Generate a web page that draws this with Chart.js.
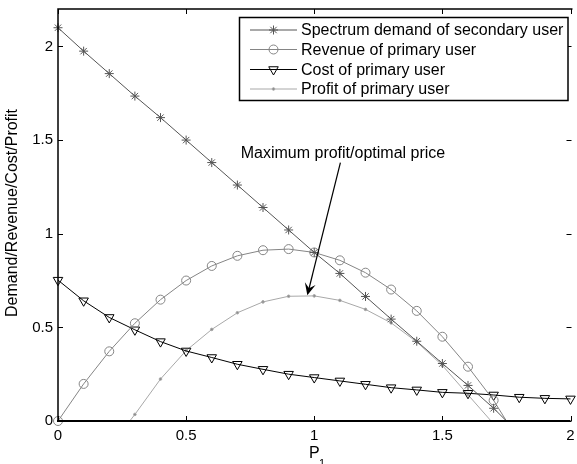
<!DOCTYPE html>
<html>
<head>
<meta charset="utf-8">
<title>Demand / Revenue / Cost / Profit vs P1</title>
<script src="https://cdn.jsdelivr.net/npm/chart.js@4"></script>
<style>
  html, body { margin: 0; padding: 0; background: #fff; }
  canvas { display: block; }
</style>
</head>
<body>
<canvas id="chart" width="577" height="464"></canvas>
<script>
// price of the primary user (P1), sampled every 0.1
const prices = [0, 0.1, 0.2, 0.3, 0.4, 0.5, 0.6, 0.7, 0.8, 0.9, 1.0,
                1.1, 1.2, 1.3, 1.4, 1.5, 1.6, 1.7, 1.8, 1.9, 2.0];

const demand  = [2.10, 1.975, 1.855, 1.735, 1.62, 1.50, 1.38, 1.26, 1.14, 1.02,
                 0.90, 0.788, 0.665, 0.544, 0.426, 0.307, 0.19, 0.068];
const revenue = [0, 0.198, 0.372, 0.522, 0.648, 0.75, 0.828, 0.882, 0.912, 0.918,
                 0.90, 0.858, 0.792, 0.702, 0.588, 0.45, 0.29, 0.11];
const cost    = [0.752, 0.642, 0.553, 0.487, 0.424, 0.374, 0.339, 0.303, 0.276, 0.25,
                 0.232, 0.214, 0.196, 0.178, 0.166, 0.153, 0.148, 0.139, 0.127, 0.121, 0.118];
const profit  = [null, null, null, 0.035, 0.224, 0.376, 0.489, 0.578, 0.636, 0.666,
                 0.668, 0.644, 0.596, 0.524, 0.422, 0.297, 0.14];

// where a curve runs into zero between samples (no marker there)
const demandZeroAt = 1.75;
const revenueZeroAt = 1.75;
const profitStartAt = 0.28;
const profitEndAt = 1.69;

const labels = [
  'Spectrum demand of secondary user',
  'Revenue of primary user',
  'Cost of primary user',
  'Profit of primary user'
];

const FONT = '"Liberation Sans", Arial, Helvetica, sans-serif';

function toPoints(values) {
  const pts = [];
  values.forEach((v, i) => { if (v !== null) pts.push({ x: prices[i], y: v }); });
  return pts;
}

const demandPts = toPoints(demand).concat([{ x: demandZeroAt, y: 0 }]);
const revenuePts = toPoints(revenue).concat([{ x: revenueZeroAt, y: 0 }]);
const costPts = toPoints(cost);
const profitPts = [{ x: profitStartAt, y: 0 }].concat(toPoints(profit), [{ x: profitEndAt, y: 0 }]);

// markers everywhere except the zero crossings
const radii = (pts, r, skipFirst) =>
  pts.map((p, i) => (i === pts.length - 1 || (skipFirst && i === 0)) ? 0 : r);

const styles = [
  { color: '#555555', pointStyle: 'star', radius: 4.5, rotation: 0, fill: 'rgba(0,0,0,0)' },
  { color: '#858585', pointStyle: 'circle', radius: 4.5, rotation: 0, fill: 'rgba(0,0,0,0)' },
  { color: '#000000', pointStyle: 'triangle', radius: 5.5, rotation: 180, fill: 'rgba(0,0,0,0)' },
  { color: '#a8a8a8', pointStyle: 'circle', radius: 1.3, rotation: 0, fill: '#8c8c8c' }
];

function makeDataset(i, pts, pointRadius) {
  const s = styles[i];
  return {
    label: labels[i],
    data: pts,
    borderColor: s.color,
    borderWidth: 1,
    pointStyle: s.pointStyle,
    pointRotation: s.rotation,
    pointRadius: pointRadius,
    pointBorderColor: s.color,
    pointBackgroundColor: s.fill,
    pointBorderWidth: 1,
    tension: 0,
    clip: false
  };
}

// box, inward tick marks, axis titles, legend and the arrow note
const decorations = {
  id: 'decorations',
  afterDraw(chart) {
    const { ctx, chartArea: a, scales: { x, y } } = chart;
    ctx.save();

    // frame: left, top and a heavier bottom line
    ctx.strokeStyle = '#000';
    ctx.lineWidth = 1.5;
    ctx.beginPath();
    ctx.moveTo(a.left, a.bottom);
    ctx.lineTo(a.left, a.top);
    ctx.lineTo(a.right + 2, a.top);
    ctx.stroke();
    ctx.lineWidth = 2.2;
    ctx.beginPath();
    ctx.moveTo(a.left - 1, a.bottom);
    ctx.lineTo(a.right, a.bottom);
    ctx.stroke();

    // tick marks pointing into the plot on all four sides
    ctx.lineWidth = 1;
    const tl = 5;
    x.ticks.forEach(t => {
      const px = Math.round(x.getPixelForValue(t.value)) + 0.5;
      ctx.beginPath();
      ctx.moveTo(px, a.bottom); ctx.lineTo(px, a.bottom - tl);
      ctx.moveTo(px, a.top); ctx.lineTo(px, a.top + tl);
      ctx.stroke();
    });
    y.ticks.forEach(t => {
      const py = Math.round(y.getPixelForValue(t.value)) + 0.5;
      ctx.beginPath();
      ctx.moveTo(a.left, py); ctx.lineTo(a.left + tl, py);
      ctx.moveTo(a.right + 1, py); ctx.lineTo(a.right + 1 - tl, py);
      ctx.stroke();
    });

    // axis titles
    ctx.fillStyle = '#000';
    ctx.font = '16px ' + FONT;
    ctx.textBaseline = 'alphabetic';
    ctx.textAlign = 'left';
    ctx.fillText('P', 309, 458);
    ctx.font = '11px ' + FONT;
    ctx.fillText('1', 319, 467);

    ctx.save();
    ctx.translate(17, 213);
    ctx.rotate(-Math.PI / 2);
    ctx.font = '16px ' + FONT;
    ctx.textAlign = 'center';
    ctx.fillText('Demand/Revenue/Cost/Profit', 0, 0);
    ctx.restore();

    // legend box
    const box = { left: 239.5, top: 17.5, right: 568, bottom: 100.5 };
    ctx.fillStyle = '#fff';
    ctx.fillRect(box.left, box.top, box.right - box.left, box.bottom - box.top);
    ctx.strokeStyle = '#000';
    ctx.lineWidth = 1.5;
    ctx.strokeRect(box.left, box.top, box.right - box.left, box.bottom - box.top);

    const rows = [30, 49.5, 69.5, 89];
    ctx.font = '16px ' + FONT;
    ctx.textBaseline = 'middle';
    labels.forEach((text, i) => {
      const s = styles[i];
      const ry = rows[i];
      ctx.strokeStyle = s.color;
      ctx.lineWidth = 1;
      ctx.beginPath();
      ctx.moveTo(250, ry); ctx.lineTo(297, ry);
      ctx.stroke();
      ctx.fillStyle = s.fill;
      Chart.helpers.drawPoint(ctx, {
        pointStyle: s.pointStyle, radius: s.radius, rotation: s.rotation, borderWidth: 1
      }, 273.5, ry);
      ctx.fillStyle = '#000';
      ctx.fillText(text, 301, ry + 1);
    });

    // note with an arrow down to the profit peak
    ctx.font = '16px ' + FONT;
    ctx.textBaseline = 'middle';
    ctx.textAlign = 'left';
    ctx.fillText('Maximum profit/optimal price', x.getPixelForValue(0.713), y.getPixelForValue(1.428));

    const x0 = x.getPixelForValue(1.102), y0 = y.getPixelForValue(1.38);
    const x1 = x.getPixelForValue(0.973), y1 = y.getPixelForValue(0.671);
    const ang = Math.atan2(y1 - y0, x1 - x0);
    const len = 12, half = 5.5;
    ctx.strokeStyle = '#000';
    ctx.lineWidth = 1.2;
    ctx.beginPath();
    ctx.moveTo(x0, y0);
    ctx.lineTo(x1 - Math.cos(ang) * 6, y1 - Math.sin(ang) * 6);
    ctx.stroke();
    ctx.translate(x1, y1);
    ctx.rotate(ang);
    ctx.fillStyle = '#000';
    ctx.beginPath();
    ctx.moveTo(0, 0);
    ctx.lineTo(-len, -half);
    ctx.lineTo(-len * 0.6, 0);
    ctx.lineTo(-len, half);
    ctx.closePath();
    ctx.fill();

    ctx.restore();
  }
};

const tickLabel = value => String(Number(value.toFixed(2)));

new Chart(document.getElementById('chart'), {
  type: 'line',
  data: {
    datasets: [
      makeDataset(0, demandPts, radii(demandPts, styles[0].radius, false)),
      makeDataset(1, revenuePts, radii(revenuePts, styles[1].radius, false)),
      makeDataset(2, costPts, styles[2].radius),
      makeDataset(3, profitPts, radii(profitPts, styles[3].radius, true))
    ]
  },
  options: {
    responsive: false,
    devicePixelRatio: 1,
    animation: false,
    layout: { padding: { top: 9, right: 0, left: 0, bottom: 0 } },
    plugins: {
      legend: { display: false },
      tooltip: { enabled: false }
    },
    scales: {
      x: {
        type: 'linear',
        min: 0,
        max: 2,
        grid: { display: false, drawTicks: false },
        border: { display: false },
        ticks: {
          stepSize: 0.5,
          maxRotation: 0,
          autoSkip: false,
          padding: 6,
          color: '#000',
          font: { family: FONT, size: 15 },
          callback: tickLabel
        },
        afterFit(scale) {
          scale.height = 43;
          scale.paddingLeft = 0;
          scale.paddingRight = 0;
        }
      },
      y: {
        type: 'linear',
        min: 0,
        max: 2.2,
        grid: { display: false, drawTicks: false },
        border: { display: false },
        ticks: {
          stepSize: 0.5,
          padding: 5,
          color: '#000',
          font: { family: FONT, size: 15 },
          callback: tickLabel
        },
        afterBuildTicks(scale) {
          scale.ticks = scale.ticks.filter(t => t.value <= 2.0001);
        },
        afterFit(scale) {
          scale.width = 58;
          scale.paddingTop = 0;
          scale.paddingBottom = 0;
        }
      }
    }
  },
  plugins: [decorations]
});
</script>
</body>
</html>
